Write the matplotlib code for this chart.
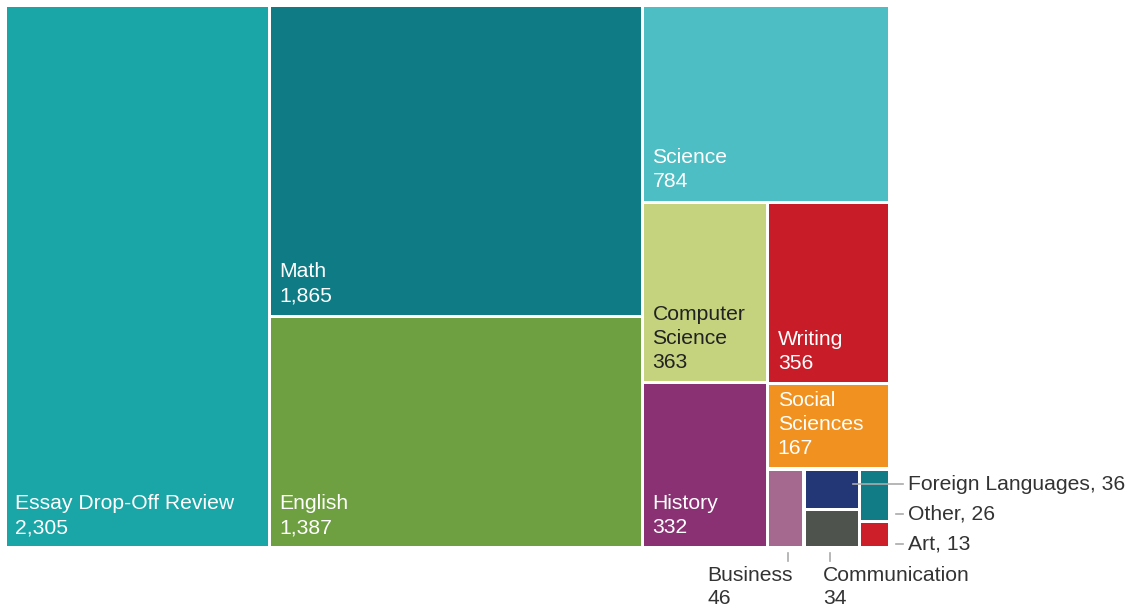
import matplotlib.pyplot as plt
from matplotlib.patches import Rectangle

# data
subjects = ['Essay Drop-Off Review', 'Math', 'English', 'Science', 'Computer Science',
            'Writing', 'History', 'Social Sciences', 'Business', 'Foreign Languages',
            'Communication', 'Other', 'Art']
sessions = [2305, 1865, 1387, 784, 363, 356, 332, 167, 46, 36, 34, 26, 13]
colors = ['#1aa5a6', '#0f7c85', '#6e9f40', '#4cbec4', '#c5d27e', '#c81d28', '#8a3173',
          '#f19220', '#a5688e', '#233777', '#4e534d', '#127c86', '#cd1f29']
inside_names = {'Computer Science': 'Computer\nScience', 'Social Sciences': 'Social\nSciences'}

value = dict(zip(subjects, sessions))
color = dict(zip(subjects, colors))

# slicing structure of the treemap: 'h' splits left->right, 'v' splits top->bottom
tree = ('h', ['Essay Drop-Off Review',
              ('v', ['Math', 'English']),
              ('v', ['Science',
                     ('h', [('v', ['Computer Science', 'History']),
                            ('v', ['Writing', 'Social Sciences',
                                   ('h', ['Business',
                                          ('v', ['Foreign Languages', 'Communication']),
                                          ('v', ['Other', 'Art'])])])])])])


def total(node):
    if isinstance(node, str):
        return value[node]
    return sum(total(c) for c in node[1])


def layout(node, x, y, w, h, out):
    if isinstance(node, str):
        out[node] = (x, y, w, h)
        return
    d, kids = node
    s = total(node)
    pos = 0.0
    for k in kids:
        f = total(k) / s
        if d == 'h':
            layout(k, x + pos * w, y, w * f, h, out)
        else:
            layout(k, x, y + pos * h, w, h * f, out)
        pos += f


W, H = 1134, 612
fig = plt.figure(figsize=(W / 100, H / 100), dpi=100)
ax = fig.add_axes([0, 0, 1, 1])
ax.set_xlim(0, W)
ax.set_ylim(H, 0)
ax.axis('off')

rects = {}
layout(tree, 5, 5, 885, 543, rects)

gap = 1.6
for name in subjects:
    x, y, w, h = rects[name]
    ax.add_patch(Rectangle((x + gap, y + gap), w - 2 * gap, h - 2 * gap,
                           facecolor=color[name], edgecolor='none'))

font = 'Liberation Sans'
fs = 15.2
for name in subjects[:8]:
    x, y, w, h = rects[name]
    tc = '#222222' if name == 'Computer Science' else 'white'
    ax.text(x + 10, y + h - 11, inside_names.get(name, name) + '\n' + format(value[name], ','),
            color=tc, fontsize=fs, family=font, ha='left', va='bottom', linespacing=1.33)

lc = '#aaaaaa'
tcol = '#333333'
# right-side callouts
for name, yc in [('Foreign Languages', 484), ('Other', 514), ('Art', 544)]:
    x, y, w, h = rects[name]
    x0 = x + w - 6 if name == 'Foreign Languages' else 896
    ax.plot([x0, 903], [yc, yc], color=lc, lw=1.2)
    ax.text(908, yc, f'{name}, {value[name]}', color=tcol, fontsize=fs, family=font,
            ha='left', va='center')

# bottom callouts
for name, tx in [('Business', 707), ('Communication', 823)]:
    x, y, w, h = rects[name]
    xc = x + w / 2 + 2 if name == 'Business' else x + 26
    ax.plot([xc, xc], [553, 561], color=lc, lw=1.2)
    ax.text(tx, 566, f'{name}\n{value[name]}', color=tcol, fontsize=fs, family=font,
            ha='left', va='top', linespacing=1.3)

fig.savefig('out.png', dpi=100, facecolor='white')
